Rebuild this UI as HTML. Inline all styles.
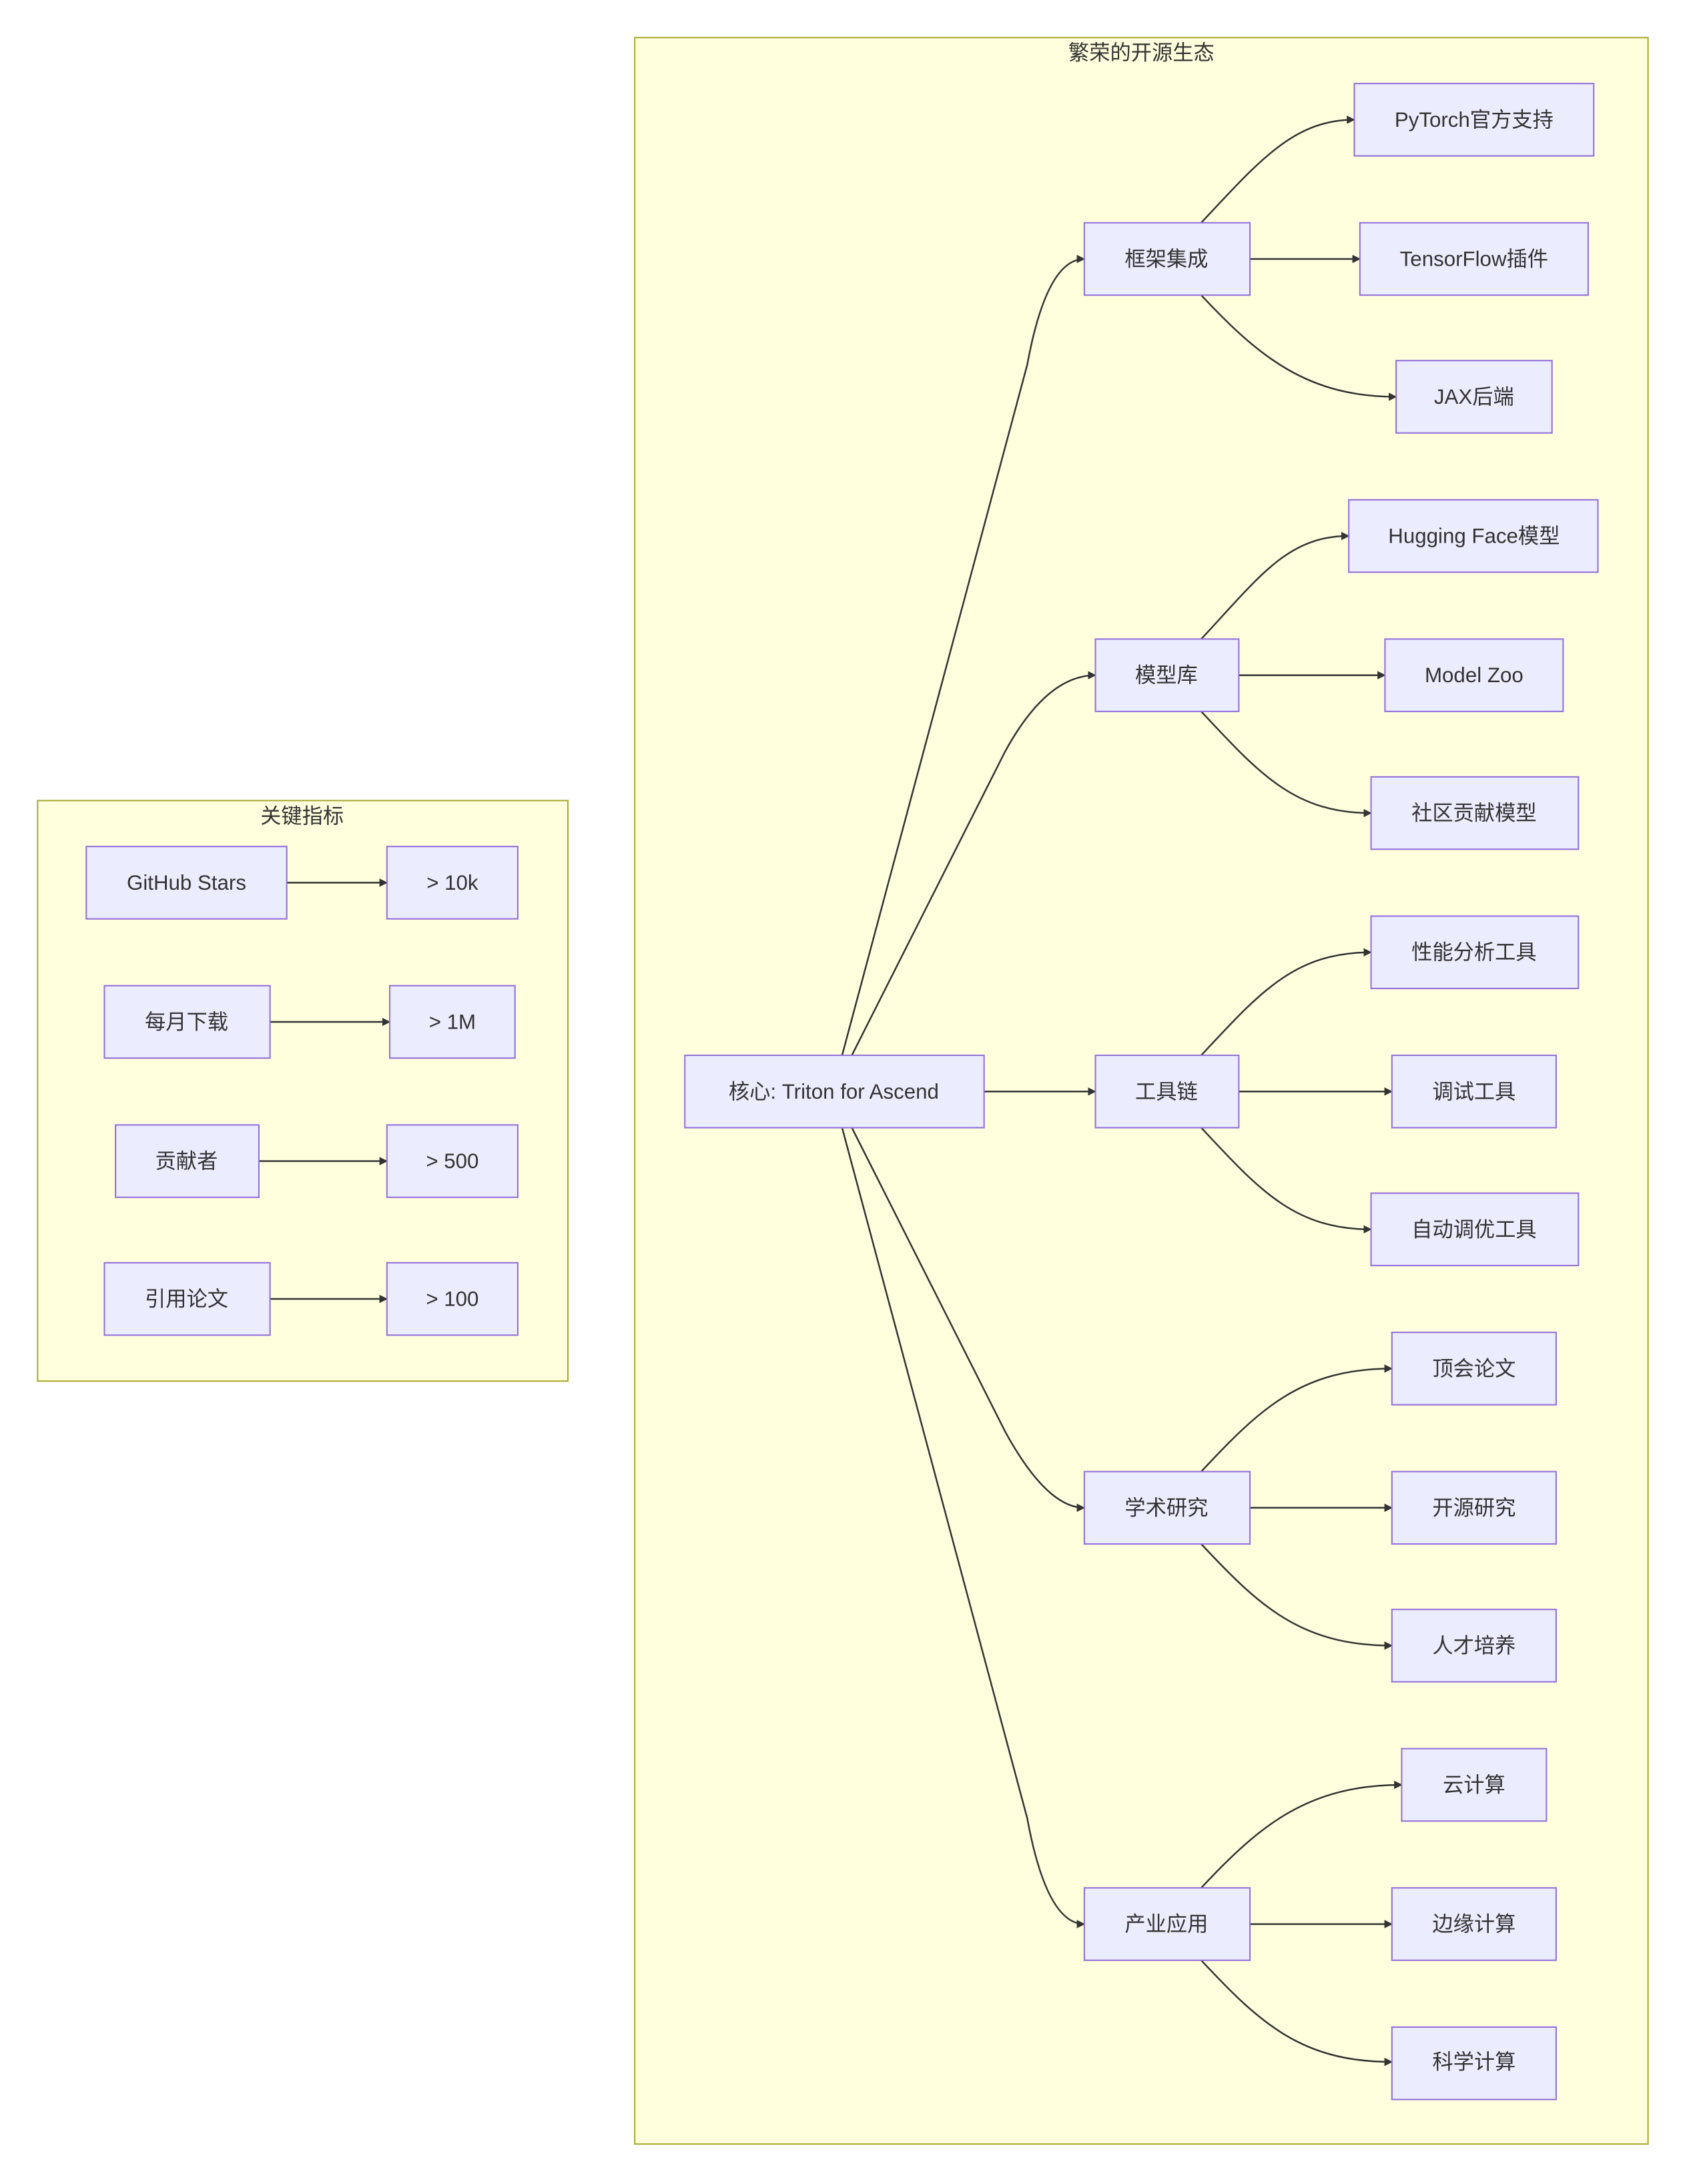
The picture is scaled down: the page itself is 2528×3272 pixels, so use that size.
<!DOCTYPE html>
<html><head><meta charset="utf-8"><style>
html,body{margin:0;padding:0;background:#fff;}
svg{display:block;}
text{font-family:"Liberation Sans","Noto Sans CJK SC",sans-serif;font-size:15px;fill:#333;text-anchor:middle;dominant-baseline:central;}
.n{fill:#ECECFF;stroke:#9370DB;stroke-width:1;}
.c{fill:#FFFFDE;stroke:#AAAA33;stroke-width:1;}
.e{fill:none;stroke:#333;stroke-width:1.2;marker-end:url(#a);}
</style></head><body>
<svg width="2528" height="3272" viewBox="0 0 1212 1568.7" preserveAspectRatio="none">
<defs><marker id="a" viewBox="0 0 10 10" refX="9" refY="5" markerWidth="6" markerHeight="6" orient="auto" markerUnits="userSpaceOnUse"><path d="M0,0L10,5L0,10z" fill="#333"/></marker></defs>
<rect class="c" x="456" y="27" width="728" height="1513"/>
<text x="820" y="38">繁荣的开源生态</text>
<rect class="c" x="27" y="575" width="381" height="417"/>
<text x="217" y="586">关键指标</text>

<!-- left edges -->
<path class="e" d="M206,634L278,634"/>
<path class="e" d="M194,734L280,734"/>
<path class="e" d="M186,834L278,834"/>
<path class="e" d="M194,933L278,933"/>

<!-- core edges -->
<path class="e" d="M605,758L738,262Q752,186 779,186"/>
<path class="e" d="M612,758L722,540Q752,485 787,485"/>
<path class="e" d="M707,784L787,784"/>
<path class="e" d="M612,810L722,1028Q752,1083 779,1083"/>
<path class="e" d="M605,810L738,1306Q752,1382 779,1382"/>

<!-- child edges -->
<g>
<path class="e" d="M863,160C905,115 930,86 973,86"/>
<path class="e" d="M898,186L977,186"/>
<path class="e" d="M863,212C905,257 940,285 1003,285"/>
<path class="e" d="M863,459C905,414 925,385 969,385"/>
<path class="e" d="M890,485L995,485"/>
<path class="e" d="M863,511C905,556 930,584 985,584"/>
<path class="e" d="M863,758C905,713 930,684 985,684"/>
<path class="e" d="M890,784L1000,784"/>
<path class="e" d="M863,810C905,855 930,883 985,883"/>
<path class="e" d="M863,1057C905,1012 935,983 1000,983"/>
<path class="e" d="M898,1083L1000,1083"/>
<path class="e" d="M863,1109C905,1154 935,1182 1000,1182"/>
<path class="e" d="M863,1356C905,1311 940,1282 1007,1282"/>
<path class="e" d="M898,1382L1000,1382"/>
<path class="e" d="M863,1408C905,1453 935,1481 1000,1481"/>
</g>

<!-- left nodes -->
<rect class="n" x="62" y="608" width="144" height="52"/><text x="134" y="634">GitHub Stars</text>
<rect class="n" x="278" y="608" width="94" height="52"/><text x="325" y="634">&gt; 10k</text>
<rect class="n" x="75" y="708" width="119" height="52"/><text x="134" y="734">每月下载</text>
<rect class="n" x="280" y="708" width="90" height="52"/><text x="325" y="734">&gt; 1M</text>
<rect class="n" x="83" y="808" width="103" height="52"/><text x="134" y="834">贡献者</text>
<rect class="n" x="278" y="808" width="94" height="52"/><text x="325" y="834">&gt; 500</text>
<rect class="n" x="75" y="907" width="119" height="52"/><text x="134" y="933">引用论文</text>
<rect class="n" x="278" y="907" width="94" height="52"/><text x="325" y="933">&gt; 100</text>

<!-- core -->
<rect class="n" x="492" y="758" width="215" height="52"/><text x="599" y="784">核心: Triton for Ascend</text>

<rect class="n" x="779" y="160" width="119" height="52"/><text x="838" y="186">框架集成</text>
<rect class="n" x="973" y="60" width="172" height="52"/><text x="1059" y="86">PyTorch官方支持</text>
<rect class="n" x="977" y="160" width="164" height="52"/><text x="1059" y="186">TensorFlow插件</text>
<rect class="n" x="1003" y="259" width="112" height="52"/><text x="1059" y="285">JAX后端</text>

<rect class="n" x="787" y="459" width="103" height="52"/><text x="838" y="485">模型库</text>
<rect class="n" x="969" y="359" width="179" height="52"/><text x="1059" y="385">Hugging Face模型</text>
<rect class="n" x="995" y="459" width="128" height="52"/><text x="1059" y="485">Model Zoo</text>
<rect class="n" x="985" y="558" width="149" height="52"/><text x="1059" y="584">社区贡献模型</text>

<rect class="n" x="787" y="758" width="103" height="52"/><text x="838" y="784">工具链</text>
<rect class="n" x="985" y="658" width="149" height="52"/><text x="1059" y="684">性能分析工具</text>
<rect class="n" x="1000" y="758" width="118" height="52"/><text x="1059" y="784">调试工具</text>
<rect class="n" x="985" y="857" width="149" height="52"/><text x="1059" y="883">自动调优工具</text>

<rect class="n" x="779" y="1057" width="119" height="52"/><text x="838" y="1083">学术研究</text>
<rect class="n" x="1000" y="957" width="118" height="52"/><text x="1059" y="983">顶会论文</text>
<rect class="n" x="1000" y="1057" width="118" height="52"/><text x="1059" y="1083">开源研究</text>
<rect class="n" x="1000" y="1156" width="118" height="52"/><text x="1059" y="1182">人才培养</text>

<rect class="n" x="779" y="1356" width="119" height="52"/><text x="838" y="1382">产业应用</text>
<rect class="n" x="1007" y="1256" width="104" height="52"/><text x="1059" y="1282">云计算</text>
<rect class="n" x="1000" y="1356" width="118" height="52"/><text x="1059" y="1382">边缘计算</text>
<rect class="n" x="1000" y="1456" width="118" height="52"/><text x="1059" y="1481">科学计算</text>
</svg>
</body></html>
